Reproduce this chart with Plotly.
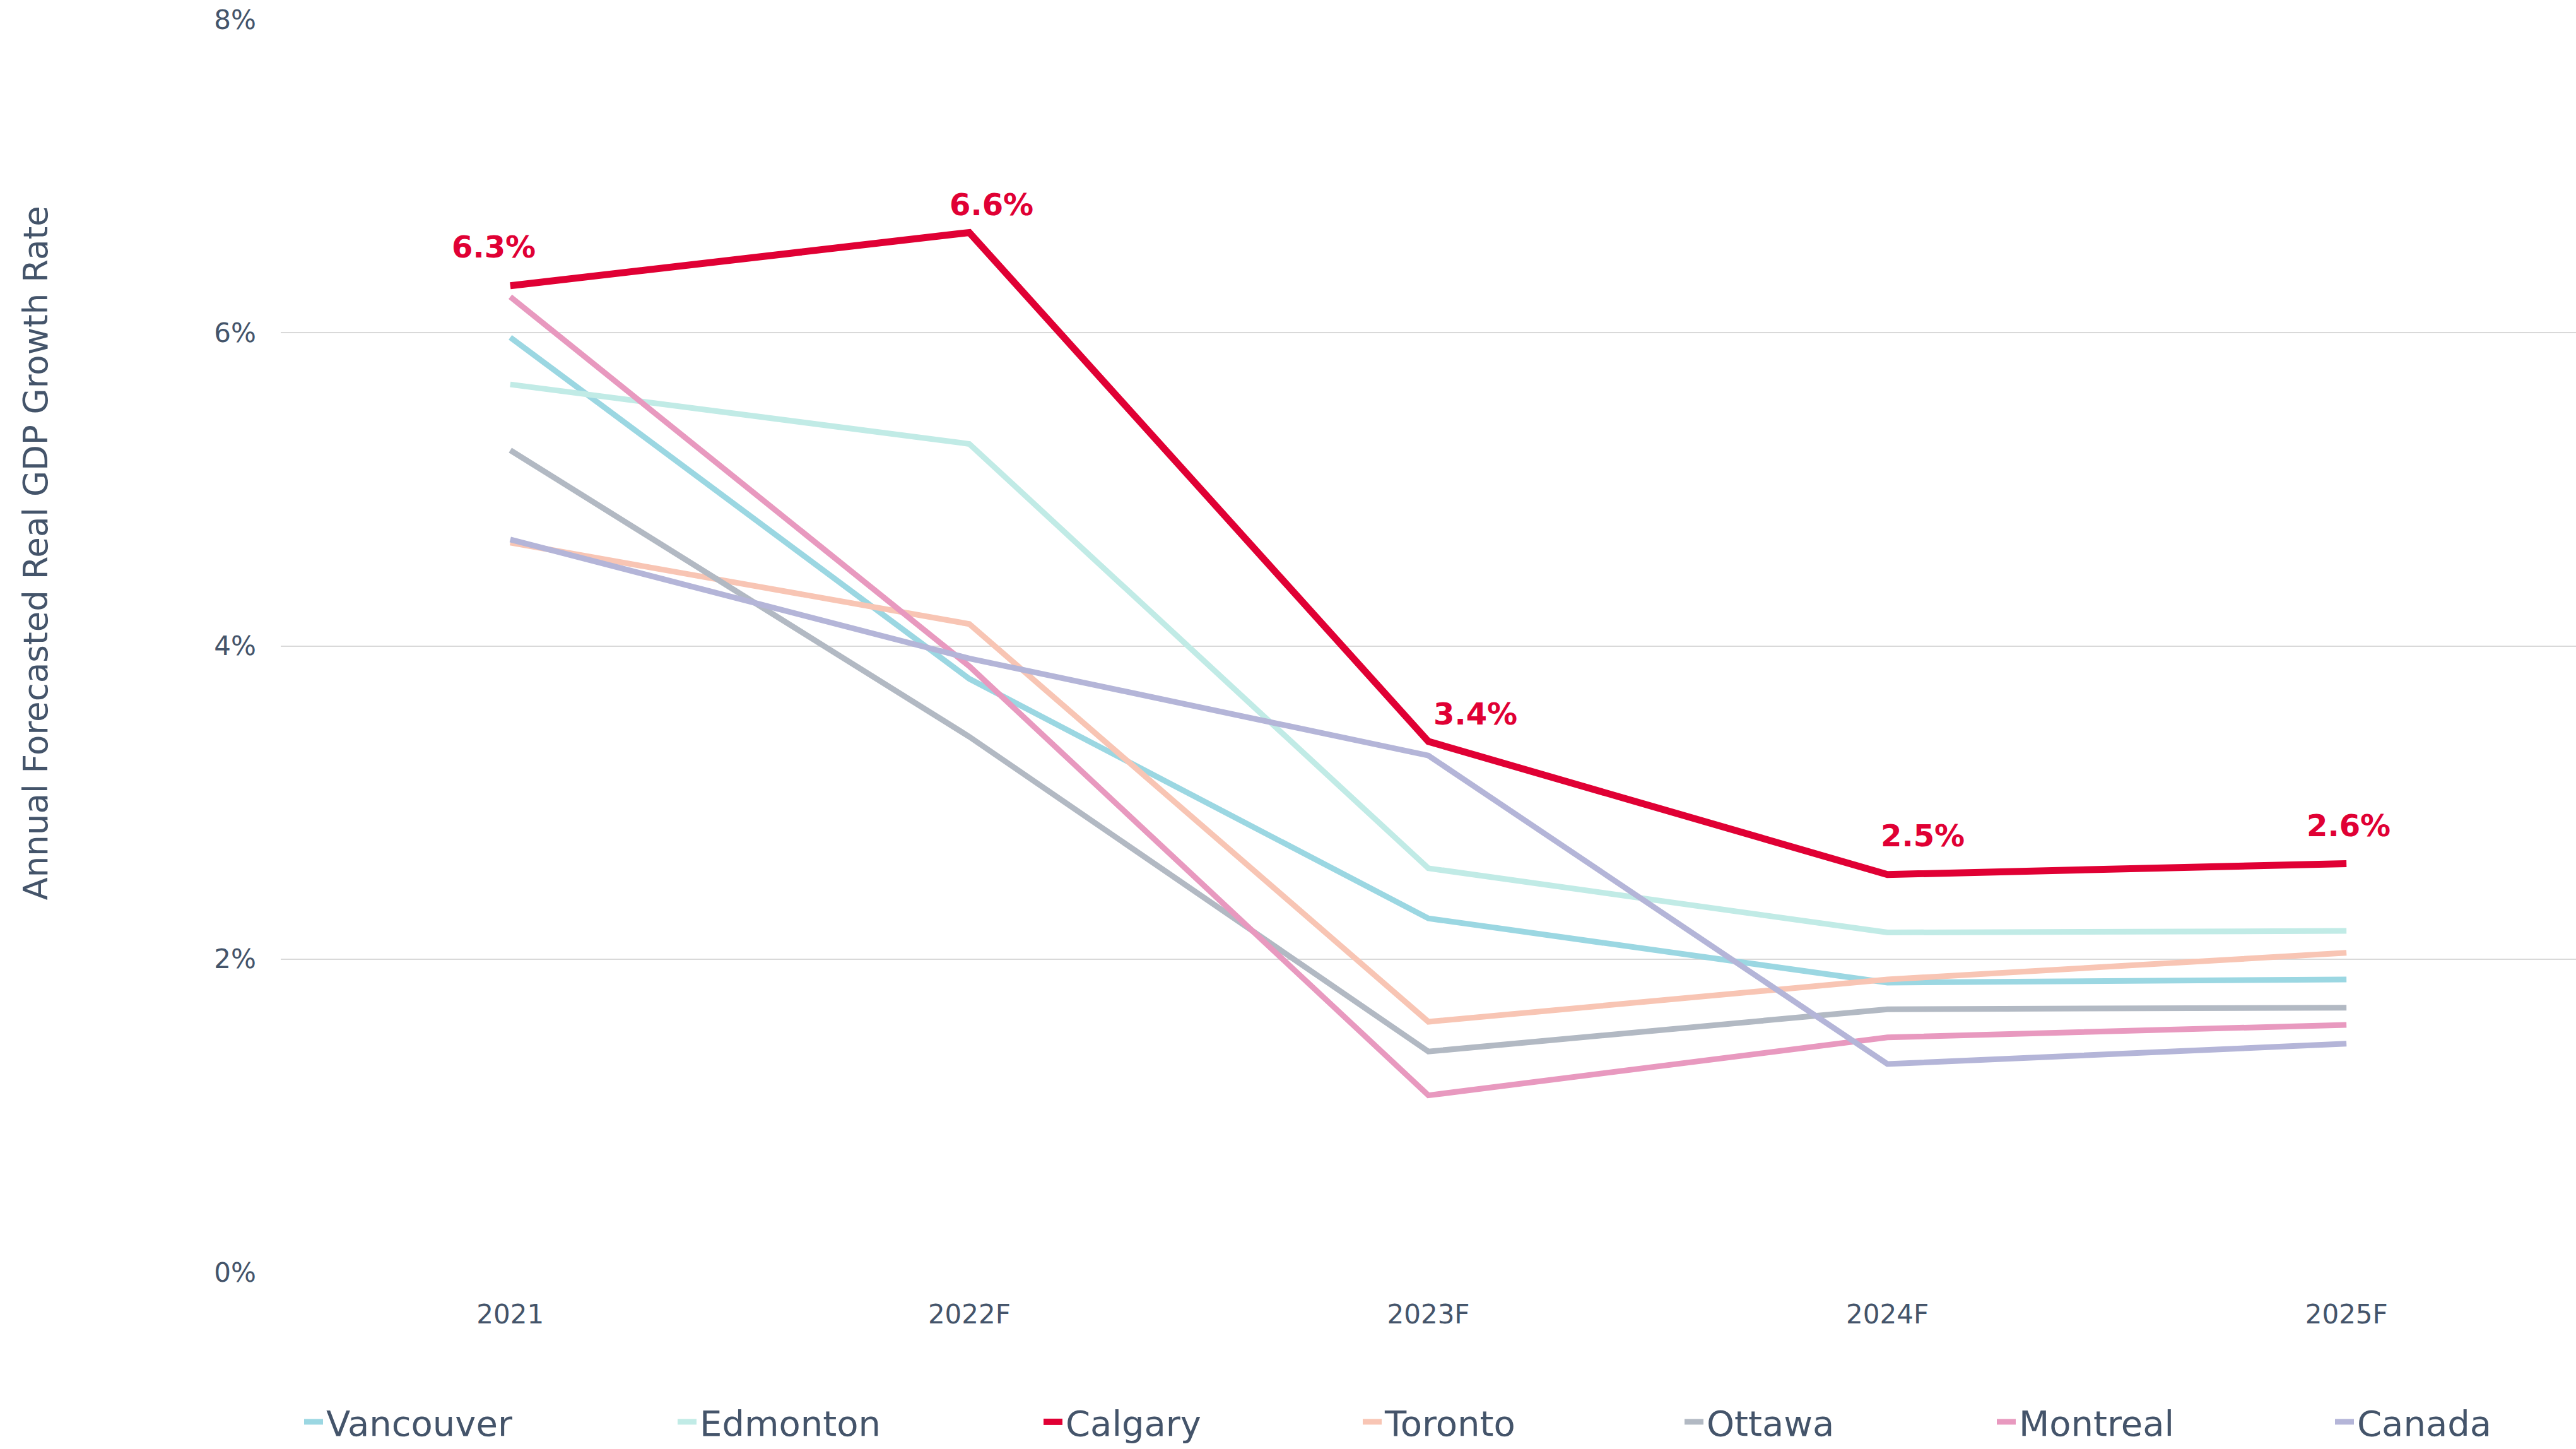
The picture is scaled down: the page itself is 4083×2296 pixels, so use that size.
import plotly.graph_objects as go

# categories
years = ["2021", "2022F", "2023F", "2024F", "2025F"]

# annual forecasted real GDP growth (%)
vancouver = [5.97, 3.79, 2.26, 1.85, 1.87]
edmonton = [5.67, 5.29, 2.58, 2.17, 2.18]
calgary = [6.30, 6.64, 3.39, 2.54, 2.61]
toronto = [4.66, 4.14, 1.60, 1.87, 2.04]
ottawa = [5.25, 3.42, 1.41, 1.68, 1.69]
montreal = [6.23, 3.87, 1.13, 1.50, 1.58]
canada = [4.68, 3.92, 3.30, 1.33, 1.46]

calgary_labels = ["6.3%", "6.6%", "3.4%", "2.5%", "2.6%"]

y_ticks = [0, 2, 4, 6, 8]
y_tick_labels = ["0%", "2%", "4%", "6%", "8%"]

TEXT = "#44546A"
RED = "#E00034"
FONT = "DejaVu Sans"

W, H = 4083, 2296
ML, MR, MT, MB = 445, 0, 31, 275

series = [
    ("Vancouver", vancouver, "#9BD7E2", 9),
    ("Edmonton", edmonton, "#C1EBE6", 9),
    ("Toronto", toronto, "#F8C5B4", 9),
    ("Ottawa", ottawa, "#B2B9C3", 9),
    ("Montreal", montreal, "#E899BF", 9),
    ("Canada", canada, "#B4B5D8", 9),
    ("Calgary", calgary, RED, 11),
]
legend_order = ["Vancouver", "Edmonton", "Calgary", "Toronto", "Ottawa", "Montreal", "Canada"]
# where each legend entry's text starts (px from the left of the page)
legend_text_px = [522, 1114, 1694, 2200, 2710, 3205, 3741]


def legend_id(name):
    k = legend_order.index(name) + 1
    return "legend" if k == 1 else "legend%d" % k


fig = go.Figure()
for name, values, color, width in series:
    fig.add_trace(
        go.Scatter(
            x=years,
            y=values,
            name=name,
            mode="lines",
            line=dict(color=color, width=width),
            legend=legend_id(name),
            showlegend=True,
        )
    )

# data labels on Calgary (x given as category index so "2021" isn't read as a number)
label_dx = [-26, 35, 74, 56, 3]
label_dy = [62, 44, 44, 62, 60]
for i, (val, lab) in enumerate(zip(calgary, calgary_labels)):
    fig.add_annotation(
        x=i,
        y=val,
        text=lab,
        showarrow=False,
        xshift=label_dx[i],
        yshift=label_dy[i],
        font=dict(family=FONT, size=48, color=RED, weight=700),
    )

fig.add_annotation(
    xref="paper",
    yref="paper",
    x=(57 - ML) / (W - ML - MR),
    y=0.574,
    xanchor="center",
    yanchor="middle",
    text="Annual Forecasted Real GDP Growth Rate",
    textangle=-90,
    showarrow=False,
    font=dict(family=FONT, size=53, color=TEXT),
)

legends = {}
for k, name in enumerate(legend_order):
    key = "legend" if k == 0 else "legend%d" % (k + 1)
    legends[key] = dict(
        orientation="h",
        x=(legend_text_px[k] - 45 - ML) / (W - ML - MR),
        xanchor="left",
        y=-0.1196,
        yanchor="middle",
        font=dict(family=FONT, size=56, color=TEXT),
        bgcolor="rgba(0,0,0,0)",
    )

fig.update_layout(
    width=W,
    height=H,
    margin=dict(l=ML, r=MR, t=MT, b=MB),
    showlegend=True,
    paper_bgcolor="white",
    plot_bgcolor="white",
    font=dict(family=FONT, color=TEXT, size=42),
    xaxis=dict(
        type="category",
        range=[-0.5, 4.5],
        showgrid=False,
        showline=False,
        zeroline=False,
        ticks="",
        ticklabelstandoff=38,
        tickfont=dict(size=42, color=TEXT),
    ),
    yaxis=dict(
        range=[0, 8],
        tickvals=y_ticks,
        ticktext=y_tick_labels,
        showgrid=True,
        gridcolor="#D9D9D9",
        gridwidth=2,
        zeroline=False,
        showline=False,
        ticks="",
        ticklabelstandoff=38,
        tickfont=dict(size=42, color=TEXT),
    ),
    **legends,
)

fig.write_html(
    "out.html",
    config={"displayModeBar": False},
    post_script="document.body.style.margin='0';",
)
